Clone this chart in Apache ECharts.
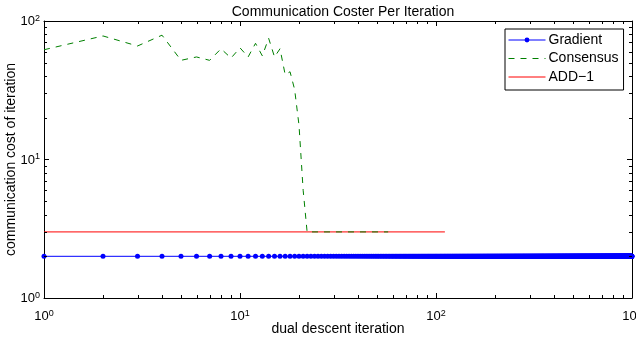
<!DOCTYPE html>
<html><head><meta charset="utf-8">
<script src="https://cdn.jsdelivr.net/npm/echarts@6/dist/echarts.min.js"></script>
<style>html,body{margin:0;padding:0;background:#fff}#c{width:636px;height:338px}</style>
</head><body><div id="c"></div>
<script>
// ---- data ----
const titleText = 'Communication Coster Per Iteration';
const xName = 'dual descent iteration';
const yName = 'communication cost of iteration';
const seriesNames = ['Gradient', 'Consensus', 'ADD\u22121'];
// Gradient: cost 2 at every iteration 1..1000
const gradientLastIter = 1000;
const gradientCost = 2;
// Consensus (iteration, cost)
const consensusIters = [1,2,3,4,5,6,7,8,9,10,11,12,13,14,15,16,17,18,19,20,21,22,30,40,50,57];
const consensusCost  = [62,78,66,79,52,55,52,63,54,64,55,69,56,75,55,63,41,43,32,17.7,6,3,3,3,3,3];
// ADD-1 (iteration, cost)
const addIters = [1, 111];
const addCost  = [3, 3];
const xMinorTicks = [2,3,4,5,6,7,8,9,20,30,40,50,60,70,80,90,200,300,400,500,600,700,800,900];
const yMinorTicks = [2,3,4,5,6,7,8,9,20,30,40,50,60,70,80,90];

// ---- build ----
const gradientData = [];
for (let i = 1; i <= gradientLastIter; i++) gradientData.push([i, gradientCost]);
const consensusData = consensusIters.map((x, i) => [x, consensusCost[i]]);
const addData = addIters.map((x, i) => [x, addCost[i]]);

const FONT = 'Liberation Sans, Arial, Helvetica, sans-serif';
const supFmt = v => '{b|10}{s|' + Math.round(Math.log10(v)) + '}';
const tickRich = {
  b: {fontSize: 13, fontFamily: FONT, color: '#000', verticalAlign: 'bottom', lineHeight: 14},
  s: {fontSize: 9, fontFamily: FONT, color: '#000', verticalAlign: 'top', padding: [0,0,8,0], lineHeight: 14}
};
const axisBase = {
  type: 'log', logBase: 10,
  axisLine: {show: true, onZero: false, lineStyle: {color: '#000', width: 1}},
  axisTick: {show: true, inside: true, length: 5, lineStyle: {color: '#000'}},
  splitLine: {show: false}, minorTick: {show: false}
};

function minorTickSeries(vals, isX) {
  return {
    type: 'custom', silent: true, legendHoverLink: false, clip: false,
    xAxisIndex: 0, yAxisIndex: 0, z: 5,
    data: vals.map(v => isX ? [v, 10] : [10, v]),
    renderItem: function (params, api) {
      const cs = params.coordSys;
      const p = api.coord([api.value(0), api.value(1)]);
      const L = 3;
      const st = {stroke: '#000', lineWidth: 1};
      if (isX) {
        const x = Math.round(p[0]) + 0.5;
        return {type: 'group', children: [
          {type: 'line', shape: {x1: x, y1: cs.y + cs.height, x2: x, y2: cs.y + cs.height - L}, style: st},
          {type: 'line', shape: {x1: x, y1: cs.y, x2: x, y2: cs.y + L}, style: st}
        ]};
      } else {
        const y = Math.round(p[1]) + 0.5;
        return {type: 'group', children: [
          {type: 'line', shape: {x1: cs.x, y1: y, x2: cs.x + L, y2: y}, style: st},
          {type: 'line', shape: {x1: cs.x + cs.width, y1: y, x2: cs.x + cs.width - L, y2: y}, style: st}
        ]};
      }
    }
  };
}

const chart = echarts.init(document.getElementById('c'), null, {renderer: 'canvas'});
chart.setOption({
  animation: false,
  backgroundColor: '#fff',
  title: {text: titleText, left: 338, textAlign: 'center', top: 0,
    textStyle: {fontSize: 14, fontWeight: 'normal', fontFamily: FONT, color: '#000'}},
  grid: {left: 44, right: 4, top: 21, bottom: 40, containLabel: false, outerBoundsMode: 'none'},
  legend: {
    orient: 'vertical', left: 505, top: 29,
    backgroundColor: '#fff', borderColor: '#000', borderWidth: 1, borderRadius: 0,
    padding: [4, 5, 6, 3], itemGap: 4.5, itemWidth: 37, itemHeight: 6,
    textStyle: {fontSize: 14, fontFamily: FONT, color: '#000', padding: [0,0,0,-2]},
    data: [
      {name: seriesNames[0], lineStyle: {width: 1}},
      {name: seriesNames[1], lineStyle: {width: 1}, itemStyle: {opacity: 0}},
      {name: seriesNames[2], lineStyle: {width: 1}, itemStyle: {opacity: 0}}
    ]
  },
  xAxis: [
    Object.assign({}, axisBase, {min: 1, max: 1000, position: 'bottom',
      name: xName, nameLocation: 'middle', nameGap: 24, nameMoveOverlap: false,
      nameTextStyle: {fontSize: 14, fontFamily: FONT, color: '#000'},
      axisLabel: {formatter: supFmt, rich: tickRich, margin: 11}}),
    Object.assign({}, axisBase, {min: 1, max: 1000, position: 'top', axisLabel: {show: false}})
  ],
  yAxis: [
    Object.assign({}, axisBase, {min: 1, max: 100, position: 'left',
      name: yName, nameLocation: 'middle', nameGap: 26, nameMoveOverlap: false,
      nameTextStyle: {fontSize: 14, fontFamily: FONT, color: '#000'},
      axisLabel: {formatter: supFmt, rich: tickRich, margin: 4}}),
    Object.assign({}, axisBase, {min: 1, max: 100, position: 'right', axisLabel: {show: false}})
  ],
  series: [
    {name: seriesNames[0], type: 'line', data: gradientData,
      symbol: 'circle', symbolSize: 5, showSymbol: true, showAllSymbol: true,
      lineStyle: {color: '#0000ff', width: 1}, itemStyle: {color: '#0000ff'}, z: 3},
    {name: seriesNames[1], type: 'line', data: consensusData, symbol: 'none',
      lineStyle: {color: '#008000', width: 1, type: [6, 6]}, itemStyle: {color: '#008000'}, z: 2},
    {name: seriesNames[2], type: 'line', data: addData, symbol: 'none',
      lineStyle: {color: '#ff0000', width: 1}, itemStyle: {color: '#ff0000'}, z: 1},
    minorTickSeries(xMinorTicks, true),
    minorTickSeries(yMinorTicks, false)
  ]
});
</script></body></html>
